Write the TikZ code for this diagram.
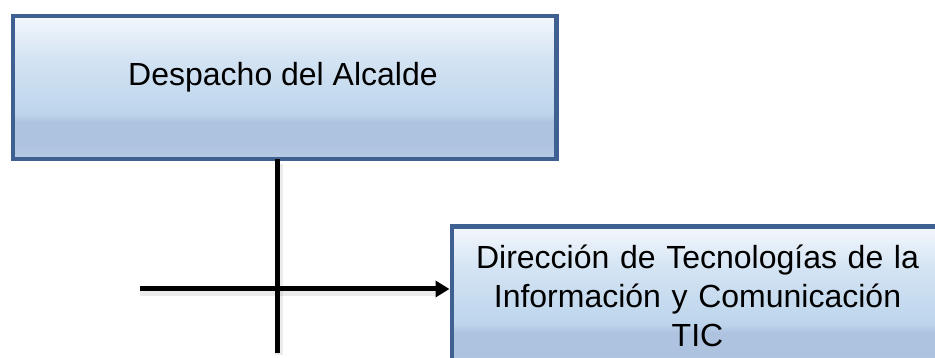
\documentclass[tikz,border=0pt]{standalone}
\usepackage{fontspec}
\setmainfont{Liberation Sans}
\usetikzlibrary{arrows.meta}
\definecolor{bordercol}{HTML}{3F6191}
\definecolor{gA}{HTML}{B8CCE6}
\definecolor{gB}{HTML}{AEC3E0}
\definecolor{gC}{HTML}{BDD5EC}
\definecolor{gD}{HTML}{D3E3F3}
\definecolor{gE}{HTML}{F3F7FC}
\pgfdeclareverticalshading{glossy}{100bp}{color(0bp)=(gA); color(25bp)=(gA); color(30bp)=(gB); color(38bp)=(gB); color(41bp)=(gC); color(60bp)=(gD); color(75bp)=(gE); color(100bp)=(gE)}
\tikzset{
  orgbox/.style={draw=bordercol, line width=4.5pt, shading=glossy, rectangle, inner sep=0pt, anchor=north west},
  boxtext/.style={font=\fontsize{32}{38.6}\selectfont, inner sep=0pt, text=black},
  conn/.style={line width=5pt, draw=black},
  connshadow/.style={line width=8pt, draw=black, opacity=0.08},
}
\begin{document}
\begin{tikzpicture}[x=1pt,y=-1pt]
\useasboundingbox (0,0) rectangle (935,358);
% boxes
\node[orgbox, minimum width=543.5pt, minimum height=143pt] (alc) at (10.5,14) {};
\node[orgbox, minimum width=496pt, minimum height=143pt] (tic) at (449.5,224.5) {};
% texts
\node[boxtext, anchor=base] (alctext) at (283,85.7) {Despacho del Alcalde};
\node[boxtext, anchor=base, text width=480pt, align=center] (tictext) at (697.5,269)
  {Dirección de Tecnologías de la\\Información y Comunicación\\TIC};
% connector coordinates
\coordinate (vx) at (277.5,0);
\coordinate (vbot) at (277.5,353);
\coordinate (hstart) at (140,289);
% soft shadows
\draw[connshadow] ([xshift=1pt,yshift=-3pt]alc.south -| vx) -- ([xshift=1pt,yshift=-2pt]vbot);
\draw[connshadow] ([yshift=-3pt]hstart) -- ([xshift=-14pt,yshift=-3pt]hstart -| tic.west);
% connectors
\draw[conn] ([yshift=2.2pt]alc.south -| vx) -- (vbot);
\draw[conn, -{Triangle[length=14pt,width=16pt]}] (hstart) -- (hstart -| tic.west);
\end{tikzpicture}
\end{document}
